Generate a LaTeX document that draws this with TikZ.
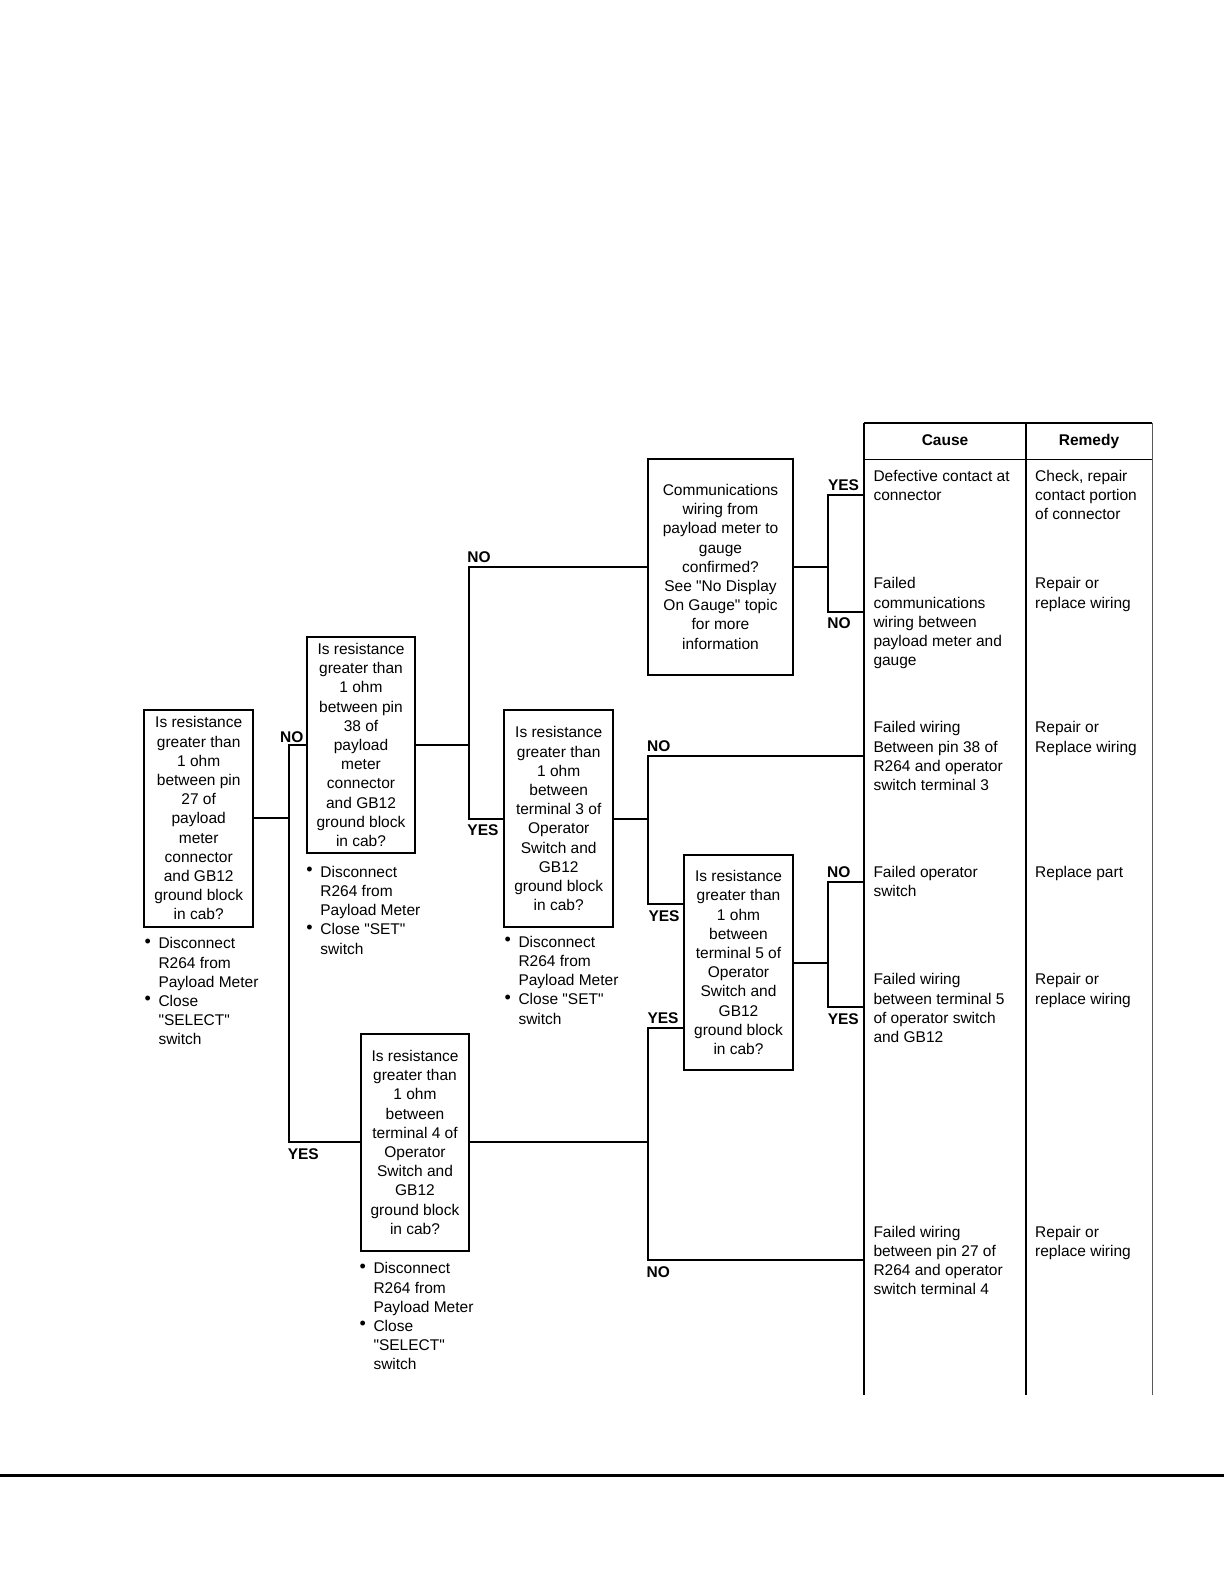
\documentclass[tikz,border=0pt]{standalone}
\usepackage{fontspec}
\setmainfont{Liberation Sans}[Ligatures=TeXOff]
\newcommand{\bitem}{\makebox[14pt][l]{\raisebox{1.5pt}{\fontsize{18}{18}\selectfont •}}}
\newcommand{\sq}{"}
\begin{document}
\begin{tikzpicture}[x=1pt,y=-1pt,
  txt/.style={font=\fontsize{15.5}{19.2}\selectfont, inner sep=0pt},
  qbox/.style={txt, draw, line width=2pt, rectangle, align=center, minimum width=108.6pt, minimum height=216.5pt},
  lbl/.style={font=\fontsize{15.5}{19.2}\selectfont\bfseries, inner sep=0pt},
  conn/.style={line width=2pt},
  cell/.style={txt, anchor=base west},
  bul/.style={txt, anchor=base west},
]
\useasboundingbox (0,0) rectangle (1224,1584);

% question boxes
\node[qbox] (A) at (198.7,818.3) {Is resistance\\greater than\\1 ohm\\between pin\\27 of\\payload\\meter\\connector\\and GB12\\ground block\\in cab?};
\node[qbox] (B) at (361,745) {Is resistance\\greater than\\1 ohm\\between pin\\38 of\\payload\\meter\\connector\\and GB12\\ground block\\in cab?};
\node[qbox, minimum width=144.4pt, minimum height=215.7pt] (C) at (720.5,566.8) {Communications\\wiring from\\payload meter to\\gauge\\confirmed?\\See \sq No Display\\On Gauge\sq\ topic\\for more\\information};
\node[qbox] (E) at (558.7,818.7) {Is resistance\\greater than\\1 ohm\\between\\terminal 3 of\\Operator\\Switch and\\GB12\\ground block\\in cab?};
\node[qbox, minimum height=215pt] (F) at (738.5,962.5) {Is resistance\\greater than\\1 ohm\\between\\terminal 5 of\\Operator\\Switch and\\GB12\\ground block\\in cab?};
\node[qbox] (D) at (415,1142.3) {Is resistance\\greater than\\1 ohm\\between\\terminal 4 of\\Operator\\Switch and\\GB12\\ground block\\in cab?};

% bullet notes
\node[bul] (nA) at (144.3,948.8) {\begin{tabular}[t]{@{}l@{}l@{}}\bitem & Disconnect\\ & R264 from\\ & Payload Meter\\ \bitem & Close\\ & \sq SELECT\sq\\ & switch\end{tabular}};
\node[bul] (nB) at (306.2,877.2) {\begin{tabular}[t]{@{}l@{}l@{}}\bitem & Disconnect\\ & R264 from\\ & Payload Meter\\ \bitem & Close \sq SET\sq\\ & switch\end{tabular}};
\node[bul] (nE) at (504.3,947.2) {\begin{tabular}[t]{@{}l@{}l@{}}\bitem & Disconnect\\ & R264 from\\ & Payload Meter\\ \bitem & Close \sq SET\sq\\ & switch\end{tabular}};
\node[bul] (nD) at (359.3,1273.8) {\begin{tabular}[t]{@{}l@{}l@{}}\bitem & Disconnect\\ & R264 from\\ & Payload Meter\\ \bitem & Close\\ & \sq SELECT\sq\\ & switch\end{tabular}};

% table
\draw[line width=1.6pt] (864,422.7) -- (1152.3,422.7);
\draw[line width=1.6pt] (864,459.3) -- (1152.3,459.3);
\draw[line width=1.6pt] (864,422.7) -- (864,1395);
\draw[line width=2.2pt] (1026,422.7) -- (1026,1395);
\draw[line width=1.5pt, black!65] (1152.3,422.7) -- (1152.3,1395);
\node[lbl, anchor=base] (hc) at (945,445.5) {Cause};
\node[lbl, anchor=base] (hr) at (1089,445.5) {Remedy};

\node[cell] (c1) at (873.3,481.2) {\begin{tabular}[t]{@{}l@{}}Defective contact at\\connector\end{tabular}};
\node[cell] (r1) at (1035,481.2) {\begin{tabular}[t]{@{}l@{}}Check, repair\\contact portion\\of connector\end{tabular}};
\node[cell] (c2) at (873.3,588.8) {\begin{tabular}[t]{@{}l@{}}Failed\\communications\\wiring between\\payload meter and\\gauge\end{tabular}};
\node[cell] (r2) at (1035,588.8) {\begin{tabular}[t]{@{}l@{}}Repair or\\replace wiring\end{tabular}};
\node[cell] (c3) at (873.3,732.8) {\begin{tabular}[t]{@{}l@{}}Failed wiring\\Between pin 38 of\\R264 and operator\\switch terminal 3\end{tabular}};
\node[cell] (r3) at (1035,732.8) {\begin{tabular}[t]{@{}l@{}}Repair or\\Replace wiring\end{tabular}};
\node[cell] (c4) at (873.3,877.2) {\begin{tabular}[t]{@{}l@{}}Failed operator\\switch\end{tabular}};
\node[cell] (r4) at (1035,877.2) {\begin{tabular}[t]{@{}l@{}}Replace part\end{tabular}};
\node[cell] (c5) at (873.3,984.8) {\begin{tabular}[t]{@{}l@{}}Failed wiring\\between terminal 5\\of operator switch\\and GB12\end{tabular}};
\node[cell] (r5) at (1035,984.8) {\begin{tabular}[t]{@{}l@{}}Repair or\\replace wiring\end{tabular}};
\node[cell] (c6) at (873.3,1237.2) {\begin{tabular}[t]{@{}l@{}}Failed wiring\\between pin 27 of\\R264 and operator\\switch terminal 4\end{tabular}};
\node[cell] (r6) at (1035,1237.2) {\begin{tabular}[t]{@{}l@{}}Repair or\\replace wiring\end{tabular}};

% coordinates
\coordinate (j1) at (289,818.3);
\coordinate (j2) at (469,745);
\coordinate (j3) at (828.3,566.8);
\coordinate (j4) at (648.3,818.7);
\coordinate (j5) at (828.3,962.5);
\coordinate (j6) at (648.3,1142.3);
\coordinate (t1) at (864,495);
\coordinate (t2) at (864,612);
\coordinate (t3) at (864,756);
\coordinate (t4) at (864,882.3);
\coordinate (t5) at (864,1007.3);
\coordinate (t6) at (864,1260);
\coordinate (fy1) at (0,904.3);
\coordinate (fy2) at (0,1028.3);

% connectors
\draw[conn] (A.east) -- (j1);
\draw[conn] (B.west) -| (j1) |- (D.west);
\draw[conn] (B.east) -- (j2);
\draw[conn] (C.west) -| (j2) |- (E.west);
\draw[conn] (C.east) -- (j3);
\draw[conn] (t1) -| (j3) |- (t2);
\draw[conn] (E.east) -- (j4);
\draw[conn] (t3) -| (j4) |- (F.west |- fy1);
\draw[conn] (F.east) -- (j5);
\draw[conn] (t4) -| (j5) |- (t5);
\draw[conn] (D.east) -- (j6);
\draw[conn] (F.west |- fy2) -| (j6) |- (t6);

% labels
\node[lbl] (l1) at (291.7,736.7) {NO};
\node[lbl] (l2) at (303.3,1154) {YES};
\node[lbl] (l3) at (479,557.3) {NO};
\node[lbl] (l4) at (483,830) {YES};
\node[lbl] (l5) at (843.5,485) {YES};
\node[lbl] (l6) at (839,622.7) {NO};
\node[lbl] (l7) at (658.8,745.7) {NO};
\node[lbl] (l8) at (664,916) {YES};
\node[lbl] (l9) at (838.8,872.3) {NO};
\node[lbl] (l10) at (843.3,1019) {YES};
\node[lbl] (l11) at (663,1018.3) {YES};
\node[lbl] (l12) at (658.3,1271.7) {NO};

% bottom rule
\draw[line width=2.5pt] (0,1475.3) -- (1224,1475.3);
\end{tikzpicture}
\end{document}
